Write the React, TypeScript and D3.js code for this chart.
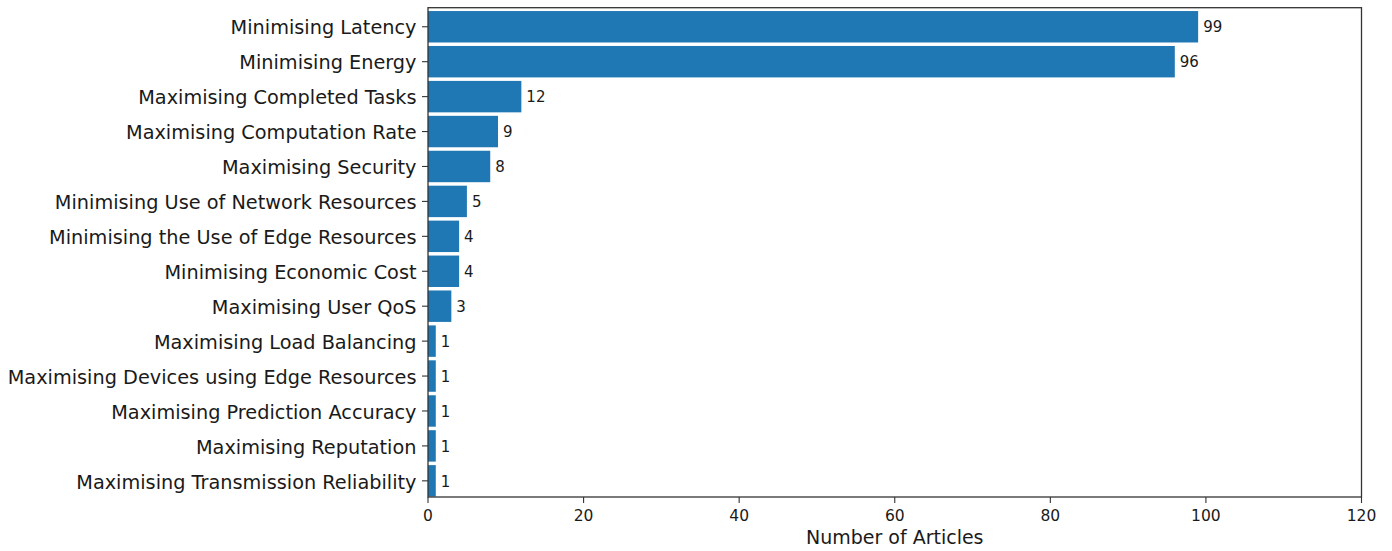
import React from "react";
import * as d3 from "d3";

const categories: string[] = [
  "Minimising Latency",
  "Minimising Energy",
  "Maximising Completed Tasks",
  "Maximising Computation Rate",
  "Maximising Security",
  "Minimising Use of Network Resources",
  "Minimising the Use of Edge Resources",
  "Minimising Economic Cost",
  "Maximising User QoS",
  "Maximising Load Balancing",
  "Maximising Devices using Edge Resources",
  "Maximising Prediction Accuracy",
  "Maximising Reputation",
  "Maximising Transmission Reliability",
];
const counts: number[] = [99, 96, 12, 9, 8, 5, 4, 4, 3, 1, 1, 1, 1, 1];
const xTicks: number[] = [0, 20, 40, 60, 80, 100, 120];
const xLabel = "Number of Articles";

const W = 1392;
const H = 551;
const left = 428;
const right = 1361.5;
const top = 7.7;
const bottom = 497;
const font = "'DejaVu Sans', sans-serif";
const barColor = "#1f77b4";
const axisColor = "#333333";
const textColor = "#1a1a1a";

export default function App() {
  const x = d3.scaleLinear().domain([0, 120]).range([left, right]);
  const y = d3
    .scaleBand<string>()
    .domain(categories)
    .range([9.3, 498.3])
    .paddingInner(0.1)
    .paddingOuter(0.05);

  return (
    <svg
      width={W}
      height={H}
      style={{ position: "absolute", left: 0, top: 0, background: "#fff" }}
      fontFamily={font}
    >
      {categories.map((c, i) => {
        const y0 = y(c)!;
        const bw = y.bandwidth();
        return (
          <g key={c}>
            <rect
              x={x(0)}
              y={y0}
              width={x(counts[i]) - x(0)}
              height={bw}
              fill={barColor}
            />
            <text
              x={x(counts[i]) + 5}
              y={y0 + bw / 2}
              dy="0.38em"
              fontSize={15}
              fill={textColor}
            >
              {counts[i]}
            </text>
            <line
              x1={left - 6}
              x2={left}
              y1={y0 + bw / 2}
              y2={y0 + bw / 2}
              stroke={axisColor}
              strokeWidth={1.1}
            />
            <text
              x={left - 11.5}
              y={y0 + bw / 2}
              dy="0.4em"
              textAnchor="end"
              fontSize={19.3}
              fill={textColor}
            >
              {c}
            </text>
          </g>
        );
      })}
      <rect
        x={left}
        y={top}
        width={right - left}
        height={bottom - top}
        fill="none"
        stroke={axisColor}
        strokeWidth={1.3}
      />
      {xTicks.map((t) => (
        <g key={t}>
          <line
            x1={x(t)}
            x2={x(t)}
            y1={bottom}
            y2={bottom + 6}
            stroke={axisColor}
            strokeWidth={1.1}
          />
          <text
            x={x(t)}
            y={520.7}
            textAnchor="middle"
            fontSize={15.5}
            fill={textColor}
          >
            {t}
          </text>
        </g>
      ))}
      <text
        x={(left + right) / 2}
        y={544}
        textAnchor="middle"
        fontSize={19}
        fill={textColor}
      >
        {xLabel}
      </text>
    </svg>
  );
}
